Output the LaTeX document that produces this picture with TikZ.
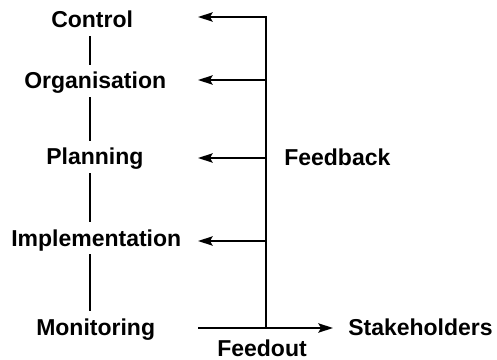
\documentclass[tikz,border=0pt]{standalone}
\usepackage{fontspec}
\setmainfont{Liberation Sans}
\usetikzlibrary{arrows.meta}
\begin{document}
\begin{tikzpicture}[x=0.75pt,y=-0.75pt,
  lbl/.style={font=\bfseries\fontsize{17.25}{20}\selectfont, anchor=base west,
    inner xsep=0pt, inner ysep=3pt, text height=12pt, text depth=3pt},
  link/.style={line width=1.1pt, shorten >=3pt},
  fb/.style={line width=1.3pt, -{Stealth[length=11pt,width=7pt,inset=2pt]}}]
\useasboundingbox (0,0) rectangle (497,360);

% stages of the management cycle
\node[lbl] (control)  at (51,28)  {Control};
\node[lbl] (org)      at (24,89)  {Organisation};
\node[lbl] (plan)     at (46,165) {Planning};
\node[lbl] (impl)     at (11,246) {Implementation};
\node[lbl] (mon)      at (36,335) {Monitoring};

% outputs
\node[lbl] (stake)    at (348,335) {Stakeholders};
\node[lbl] (feedout)  at (217,356) {Feedout};
\node[lbl] (feedback) at (284,166) {Feedback};

% column joining the stages
\coordinate (col) at (90,0);
\draw[link] (control.south -| col) -- (org.north -| col);
\draw[link] (org.south -| col) -- (plan.north -| col);
\draw[link] (plan.south -| col) -- (impl.north -| col);
\draw[link] (impl.south -| col) -- (mon.north -| col);

% feedback spine and arrow ends
\coordinate (join)  at (266,328);
\coordinate (out0)  at (198,328);
\coordinate (out1)  at (333,328);
\coordinate (t1) at (198,17);
\coordinate (s2) at (266,80);  \coordinate (t2) at (198,80);
\coordinate (s3) at (266,158); \coordinate (t3) at (198,158);
\coordinate (s4) at (266,241); \coordinate (t4) at (198,241);

\draw[fb] (join) |- (t1);
\draw[fb] (s2) -- (t2);
\draw[fb] (s3) -- (t3);
\draw[fb] (s4) -- (t4);
\draw[fb] (out0) -- (out1);
\end{tikzpicture}
\end{document}
